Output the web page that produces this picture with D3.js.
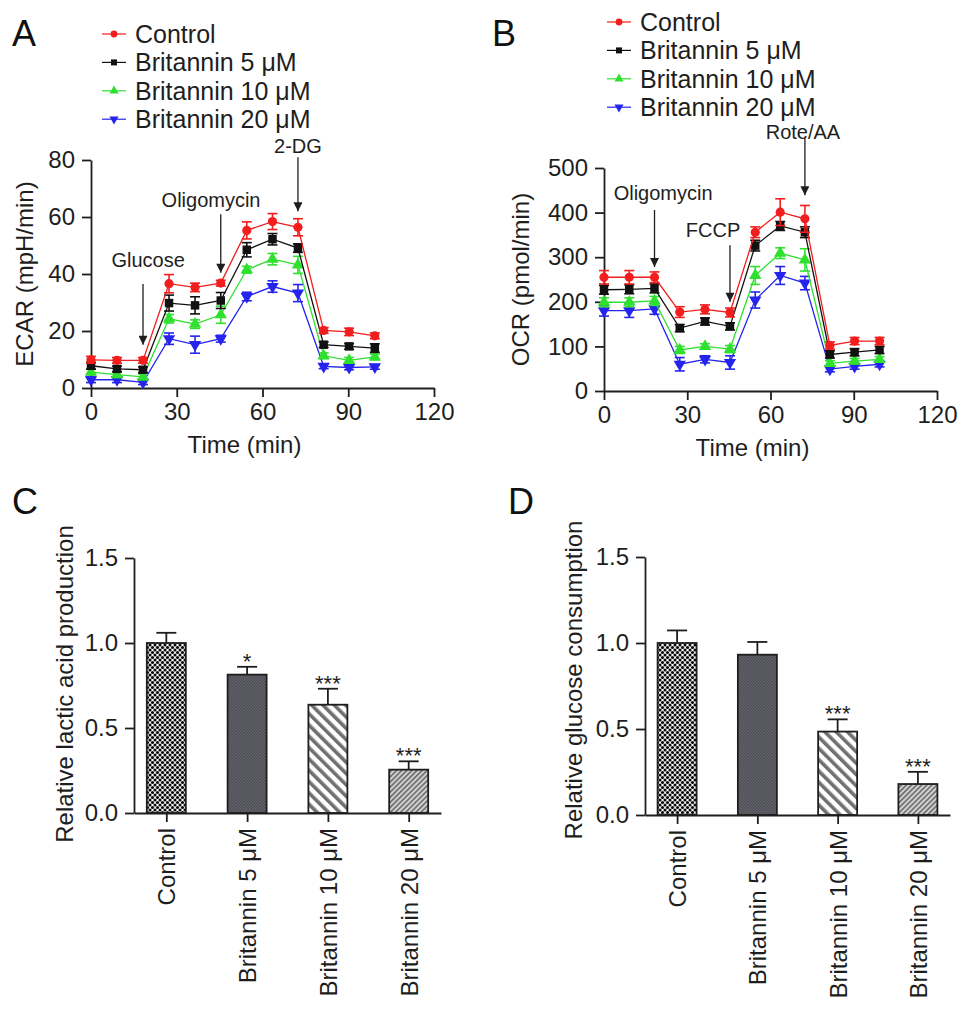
<!DOCTYPE html>
<html>
<head>
<meta charset="utf-8">
<script src="https://cdn.jsdelivr.net/npm/d3@7/dist/d3.min.js"></script>
<style>
  body { margin: 0; background: #fff; }
  svg { display: block; font-family: "Liberation Sans", Arial, Helvetica, sans-serif; }
</style>
</head>
<body>
<svg id="fig" width="969" height="1020"></svg>
<script>
(function () {
  'use strict';

  // ---- data ----
  const TIMES = [0, 9.1, 18.2, 27.3, 36.4, 45.4, 54.5, 63.5, 72.4, 81.4, 90.3, 99.3];
  const GROUPS = ['Control', 'Britannin 5 \u03bcM', 'Britannin 10 \u03bcM', 'Britannin 20 \u03bcM'];

  const ECAR_CONTROL = [9.9, 9.7, 9.7, 36.6, 35.3, 36.8, 55.3, 58.4, 56.4, 20.2, 19.7, 18.3];
  const ECAR_CONTROL_ERR = [1.2, 1.0, 1.0, 3.2, 1.5, 1.0, 3.0, 2.8, 3.0, 1.0, 1.3, 1.0];
  const ECAR_B5 = [7.8, 6.7, 6.4, 29.8, 29.0, 30.7, 48.5, 52.2, 49.1, 15.2, 14.6, 14.0];
  const ECAR_B5_ERR = [1.2, 1.0, 1.0, 2.8, 3.0, 2.8, 2.5, 2.0, 1.5, 1.0, 1.0, 1.5];
  const ECAR_B10 = [5.6, 4.7, 3.9, 24.3, 22.4, 25.7, 41.5, 45.2, 43.2, 11.3, 9.7, 10.9];
  const ECAR_B10_ERR = [1.0, 1.0, 1.0, 1.5, 1.5, 3.0, 1.2, 2.0, 3.0, 1.0, 1.0, 1.0];
  const ECAR_B20 = [2.9, 2.9, 2.0, 17.3, 15.2, 17.3, 32.1, 35.6, 33.3, 7.6, 7.2, 7.4];
  const ECAR_B20_ERR = [1.0, 1.0, 0.8, 2.0, 3.0, 1.2, 1.5, 2.0, 3.0, 0.8, 0.8, 0.8];

  const OCR_CONTROL = [255, 255, 255, 177, 183, 176, 356, 401, 386, 102, 112, 112];
  const OCR_CONTROL_ERR = [15, 15, 12, 12, 10, 10, 12, 30, 30, 8, 8, 8];
  const OCR_B5 = [227, 228, 230, 141, 156, 145, 326, 370, 356, 82, 87, 92];
  const OCR_B5_ERR = [10, 10, 10, 8, 8, 8, 12, 10, 12, 8, 8, 8];
  const OCR_B10 = [199, 199, 202, 92, 100, 94, 259, 309, 294, 62, 67, 71];
  const OCR_B10_ERR = [10, 10, 10, 8, 6, 8, 20, 12, 25, 6, 6, 6];
  const OCR_B20 = [180, 180, 184, 60, 71, 64, 204, 259, 242, 49, 55, 60];
  const OCR_B20_ERR = [12, 15, 12, 15, 8, 15, 18, 20, 15, 6, 6, 6];

  const LACTIC = [1.0, 0.814, 0.637, 0.255];
  const LACTIC_ERR = [0.06, 0.046, 0.094, 0.049];
  const LACTIC_SIG = ['', '*', '***', '***'];

  const GLUCOSE = [1.0, 0.932, 0.485, 0.18];
  const GLUCOSE_ERR = [0.073, 0.074, 0.071, 0.071];
  const GLUCOSE_SIG = ['', '', '***', '***'];

  const TIME_TICKS = [0, 30, 60, 90, 120];
  const ECAR_TICKS = [0, 20, 40, 60, 80];
  const OCR_TICKS = [0, 100, 200, 300, 400, 500];
  const BAR_TICKS = [0, 0.5, 1.0, 1.5];

  // injection arrows: time, arrow from/to (y units), label centre (time, y units)
  const ECAR_EVENTS = [
    { label: 'Glucose', t: 18.2, from: 36.5, to: 15.2, lx: 20, ly: 45 },
    { label: 'Oligomycin', t: 45.4, from: 61, to: 40.4, lx: 42, ly: 66 },
    { label: '2-DG', t: 72.4, from: 81, to: 62, lx: 72.4, ly: 85 }
  ];
  const OCR_EVENTS = [
    { label: 'Oligomycin', t: 18.2, from: 406, to: 278, lx: 21.3, ly: 444 },
    { label: 'FCCP', t: 45.4, from: 327, to: 200, lx: 39.3, ly: 361 },
    { label: 'Rote/AA', t: 72.4, from: 567, to: 439, lx: 71.7, ly: 581 }
  ];

  const COLORS = ['#f21d1d', '#111111', '#2fe02f', '#2424ee'];
  const SYMBOLS = [
    { type: d3.symbolCircle, rot: 0 },
    { type: d3.symbolSquare, rot: 0 },
    { type: d3.symbolTriangle, rot: 0 },
    { type: d3.symbolTriangle, rot: 180 }
  ];
  const PATTERNS = ['pat-check', 'pat-dark', 'pat-wide', 'pat-fine'];
  const INK = '#1e1e1e';

  const svg = d3.select('#fig');
  const defs = svg.append('defs');

  // arrow head
  defs.append('marker')
    .attr('id', 'arrow')
    .attr('viewBox', '0 0 10 10')
    .attr('refX', 10).attr('refY', 5)
    .attr('markerWidth', 10).attr('markerHeight', 9)
    .attr('markerUnits', 'userSpaceOnUse')
    .attr('orient', 'auto')
    .append('path').attr('d', 'M0,0L10,5L0,10Z').attr('fill', INK);

  // bar fills
  const pCheck = defs.append('pattern').attr('id', 'pat-check')
    .attr('patternUnits', 'userSpaceOnUse').attr('width', 5).attr('height', 5);
  pCheck.append('rect').attr('width', 5).attr('height', 5).attr('fill', '#fff');
  [[0, 0], [5, 0], [0, 5], [5, 5], [2.5, 2.5]].forEach(([cx, cy]) => {
    pCheck.append('circle').attr('cx', cx).attr('cy', cy).attr('r', 1.55).attr('fill', '#0a0a0a');
  });

  const pDark = defs.append('pattern').attr('id', 'pat-dark')
    .attr('patternUnits', 'userSpaceOnUse').attr('width', 3).attr('height', 3);
  pDark.append('rect').attr('width', 3).attr('height', 3).attr('fill', '#64646c');
  pDark.append('rect').attr('width', 1.5).attr('height', 1.5).attr('fill', '#4c4c53');
  pDark.append('rect').attr('x', 1.5).attr('y', 1.5).attr('width', 1.5).attr('height', 1.5).attr('fill', '#4c4c53');

  const pWide = defs.append('pattern').attr('id', 'pat-wide')
    .attr('patternUnits', 'userSpaceOnUse').attr('width', 8).attr('height', 8)
    .attr('patternTransform', 'rotate(-45)');
  pWide.append('rect').attr('width', 8).attr('height', 8).attr('fill', '#fff');
  pWide.append('rect').attr('width', 3.6).attr('height', 8).attr('fill', '#707070');

  const pFine = defs.append('pattern').attr('id', 'pat-fine')
    .attr('patternUnits', 'userSpaceOnUse').attr('width', 3.6).attr('height', 3.6)
    .attr('patternTransform', 'rotate(45)');
  pFine.append('rect').attr('width', 3.6).attr('height', 3.6).attr('fill', '#d2d2d2');
  pFine.append('rect').attr('width', 1.6).attr('height', 3.6).attr('fill', '#6a6a6a');

  function styleAxis(g) {
    g.selectAll('.domain').attr('stroke', INK).attr('stroke-width', 1.8);
    g.selectAll('.tick line').attr('stroke', INK).attr('stroke-width', 1.8);
    g.selectAll('.tick text').attr('fill', INK).style('font-size', '24px');
  }

  function panelLetter(text, x, y) {
    svg.append('text').attr('x', x).attr('y', y)
      .attr('fill', '#111').style('font-size', '36px').text(text);
  }

  function symbolPath(i, size) {
    return d3.symbol().type(SYMBOLS[i].type).size(size)();
  }

  /**
   * Line panel (ECAR / OCR) with legend and injection arrows
   */
  function drawLinePanel(cfg) {
    const x = d3.scaleLinear().domain([0, 120]).range([cfg.left, cfg.right]);
    const y = d3.scaleLinear().domain(cfg.yDomain).range([cfg.bottom, cfg.top]);
    const g = svg.append('g');

    // legend
    GROUPS.forEach((name, i) => {
      const ly = cfg.legendY + i * 28.4;
      const lg = g.append('g');
      lg.append('line')
        .attr('x1', cfg.legendX).attr('x2', cfg.legendX + 24)
        .attr('y1', ly).attr('y2', ly)
        .attr('stroke', COLORS[i]).attr('stroke-width', 1.2);
      lg.append('path')
        .attr('d', symbolPath(i, 36))
        .attr('transform', `translate(${cfg.legendX + 12},${ly}) rotate(${SYMBOLS[i].rot})`)
        .attr('fill', COLORS[i]);
      lg.append('text')
        .attr('x', cfg.legendX + 33).attr('y', ly)
        .attr('dominant-baseline', 'central')
        .attr('fill', INK).style('font-size', '25px')
        .text(name);
    });

    // axes
    const xAxis = g.append('g')
      .attr('transform', `translate(0,${cfg.bottom})`)
      .call(d3.axisBottom(x).tickValues(TIME_TICKS).tickSize(9).tickPadding(6).tickSizeOuter(0));
    styleAxis(xAxis);
    const yAxis = g.append('g')
      .attr('transform', `translate(${cfg.left},0)`)
      .call(d3.axisLeft(y).tickValues(cfg.yTicks).tickSize(9).tickPadding(7).tickSizeOuter(0));
    styleAxis(yAxis);

    g.append('text')
      .attr('x', (cfg.left + cfg.right) / 2 - 18).attr('y', cfg.bottom + 65)
      .attr('text-anchor', 'middle').attr('fill', INK).style('font-size', '24px')
      .text('Time (min)');
    g.append('text')
      .attr('transform', `translate(${cfg.yLabelX},${(cfg.top + cfg.bottom) / 2}) rotate(-90)`)
      .attr('text-anchor', 'middle').attr('dominant-baseline', 'central')
      .attr('fill', INK).style('font-size', '24px')
      .text(cfg.yLabel);

    // series, drawn from highest dose up so Control sits on top
    const line = d3.line().x((d) => x(d.t)).y((d) => y(d.v));
    for (let i = cfg.series.length - 1; i >= 0; i--) {
      const s = cfg.series[i];
      const pts = TIMES.map((t, k) => ({ t, v: s.values[k], e: s.err[k] }));
      const sg = g.append('g');
      sg.append('path').datum(pts)
        .attr('d', line).attr('fill', 'none')
        .attr('stroke', COLORS[i]).attr('stroke-width', 1.3);
      const eb = sg.selectAll('.eb').data(pts).join('g').attr('class', 'eb')
        .attr('stroke', COLORS[i]).attr('stroke-width', 1.6);
      eb.append('line')
        .attr('x1', (d) => x(d.t)).attr('x2', (d) => x(d.t))
        .attr('y1', (d) => y(d.v - d.e)).attr('y2', (d) => y(d.v + d.e));
      eb.append('line')
        .attr('x1', (d) => x(d.t) - 5).attr('x2', (d) => x(d.t) + 5)
        .attr('y1', (d) => y(d.v + d.e)).attr('y2', (d) => y(d.v + d.e));
      eb.append('line')
        .attr('x1', (d) => x(d.t) - 5).attr('x2', (d) => x(d.t) + 5)
        .attr('y1', (d) => y(d.v - d.e)).attr('y2', (d) => y(d.v - d.e));
      sg.selectAll('.pt').data(pts).join('path').attr('class', 'pt')
        .attr('d', symbolPath(i, i === 1 ? 72 : 66))
        .attr('transform', (d) => `translate(${x(d.t)},${y(d.v)}) rotate(${SYMBOLS[i].rot})`)
        .attr('fill', COLORS[i]);
    }

    // injection arrows
    cfg.events.forEach((ev) => {
      g.append('line')
        .attr('x1', x(ev.t)).attr('x2', x(ev.t))
        .attr('y1', y(ev.from)).attr('y2', y(ev.to))
        .attr('stroke', INK).attr('stroke-width', 1.3)
        .attr('marker-end', 'url(#arrow)');
      g.append('text')
        .attr('x', x(ev.lx)).attr('y', y(ev.ly))
        .attr('text-anchor', 'middle').attr('dominant-baseline', 'central')
        .attr('fill', INK).style('font-size', '20px')
        .text(ev.label);
    });
  }

  /**
   * Bar panel with patterned fills, upper error bars and significance stars
   */
  function drawBarPanel(cfg) {
    const x = d3.scalePoint().domain(GROUPS).range([cfg.left, cfg.right]).padding(0.4);
    const y = d3.scaleLinear().domain([0, 1.5]).range([cfg.bottom, cfg.top]);
    const g = svg.append('g');
    const bw = 39;

    const rows = GROUPS.map((name, i) => ({
      name, v: cfg.values[i], e: cfg.err[i], sig: cfg.sig[i], pat: PATTERNS[i]
    }));

    // error bars (upper only) behind bars
    const eb = g.selectAll('.eb').data(rows).join('g').attr('class', 'eb')
      .attr('stroke', INK).attr('stroke-width', 1.8);
    eb.append('line')
      .attr('x1', (d) => x(d.name)).attr('x2', (d) => x(d.name))
      .attr('y1', (d) => y(d.v)).attr('y2', (d) => y(d.v + d.e));
    eb.append('line')
      .attr('x1', (d) => x(d.name) - 10).attr('x2', (d) => x(d.name) + 10)
      .attr('y1', (d) => y(d.v + d.e)).attr('y2', (d) => y(d.v + d.e));

    g.selectAll('.bar').data(rows).join('rect').attr('class', 'bar')
      .attr('x', (d) => x(d.name) - bw / 2)
      .attr('width', bw)
      .attr('y', (d) => y(d.v))
      .attr('height', (d) => y(0) - y(d.v))
      .attr('fill', (d) => `url(#${d.pat})`)
      .attr('stroke', INK).attr('stroke-width', 1.8);

    g.selectAll('.sig').data(rows.filter((d) => d.sig)).join('text').attr('class', 'sig')
      .attr('x', (d) => x(d.name)).attr('y', (d) => y(d.v + d.e) + 2)
      .attr('text-anchor', 'middle').attr('fill', INK).style('font-size', '22px')
      .text((d) => d.sig);

    const xAxis = g.append('g')
      .attr('transform', `translate(0,${cfg.bottom})`)
      .call(d3.axisBottom(x).tickSize(9).tickPadding(8).tickSizeOuter(0));
    styleAxis(xAxis);
    xAxis.selectAll('.tick text')
      .attr('text-anchor', 'end')
      .attr('transform', 'rotate(-90)')
      .attr('x', -15).attr('y', 0).attr('dy', '0.35em');

    const yAxis = g.append('g')
      .attr('transform', `translate(${cfg.left},0)`)
      .call(d3.axisLeft(y).tickValues(BAR_TICKS).tickFormat(d3.format('.1f'))
        .tickSize(9).tickPadding(7).tickSizeOuter(0));
    styleAxis(yAxis);

    g.append('text')
      .attr('transform', `translate(${cfg.yLabelX},${cfg.yLabelY}) rotate(-90)`)
      .attr('text-anchor', 'middle').attr('dominant-baseline', 'central')
      .attr('fill', INK).style('font-size', '24px')
      .text(cfg.yLabel);
  }

  panelLetter('A', 12, 46);
  panelLetter('B', 492, 46);
  panelLetter('C', 12, 514);
  panelLetter('D', 508, 514);

  drawLinePanel({
    left: 91, right: 434, top: 160, bottom: 388,
    yDomain: [0, 80], yTicks: ECAR_TICKS,
    yLabel: 'ECAR (mpH/min)', yLabelX: 24,
    legendX: 102, legendY: 34,
    events: ECAR_EVENTS,
    series: [
      { values: ECAR_CONTROL, err: ECAR_CONTROL_ERR },
      { values: ECAR_B5, err: ECAR_B5_ERR },
      { values: ECAR_B10, err: ECAR_B10_ERR },
      { values: ECAR_B20, err: ECAR_B20_ERR }
    ]
  });

  drawLinePanel({
    left: 604, right: 937, top: 168, bottom: 391,
    yDomain: [0, 500], yTicks: OCR_TICKS,
    yLabel: 'OCR (pmol/min)', yLabelX: 520,
    legendX: 607, legendY: 22,
    events: OCR_EVENTS,
    series: [
      { values: OCR_CONTROL, err: OCR_CONTROL_ERR },
      { values: OCR_B5, err: OCR_B5_ERR },
      { values: OCR_B10, err: OCR_B10_ERR },
      { values: OCR_B20, err: OCR_B20_ERR }
    ]
  });

  drawBarPanel({
    left: 134, right: 441, top: 558, bottom: 813,
    values: LACTIC, err: LACTIC_ERR, sig: LACTIC_SIG,
    yLabel: 'Relative lactic acid production', yLabelX: 64, yLabelY: 684
  });

  drawBarPanel({
    left: 645, right: 950, top: 557, bottom: 815,
    values: GLUCOSE, err: GLUCOSE_ERR, sig: GLUCOSE_SIG,
    yLabel: 'Relative glucose consumption', yLabelX: 573, yLabelY: 680
  });
})();
</script>
</body>
</html>
